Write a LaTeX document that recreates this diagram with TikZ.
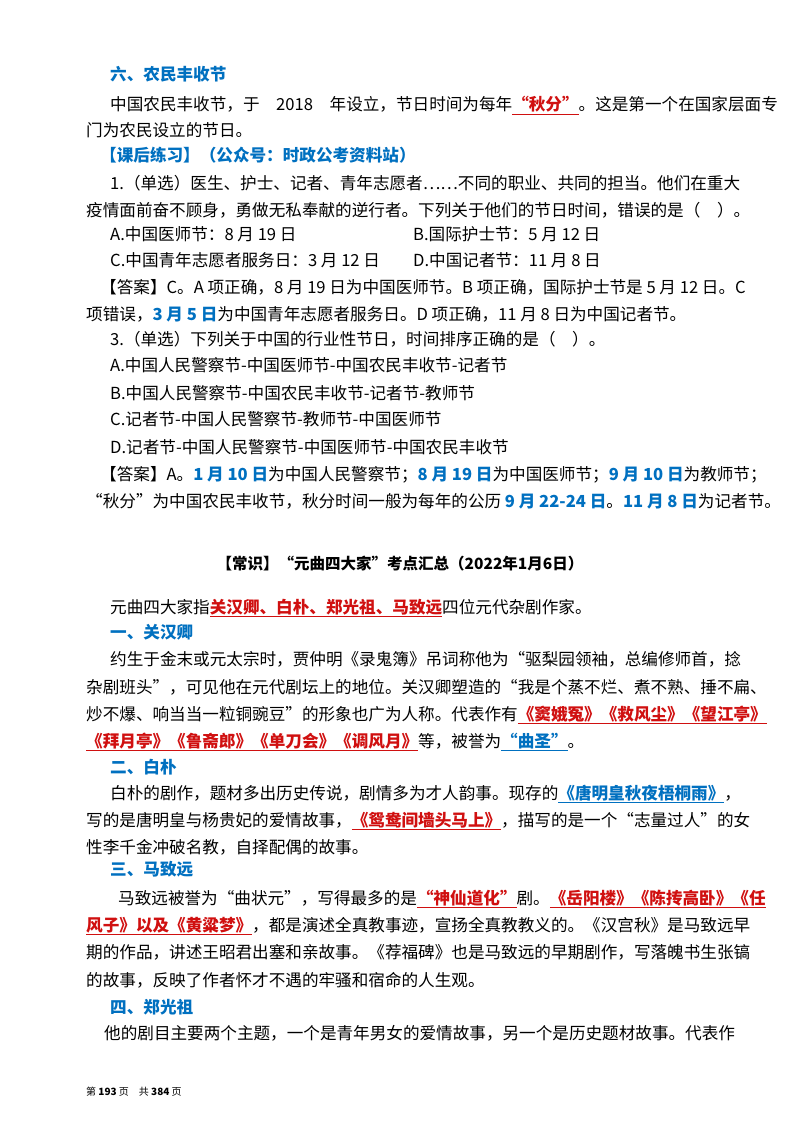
\documentclass[tikz,border=0pt]{standalone}
\usepackage{fontspec}
\setmainfont{Noto Sans CJK SC}
\definecolor{hb}{HTML}{0070C0}
\definecolor{hr}{HTML}{D01010}
\newcommand\ur[1]{{\color{hr}\underline{\textbf{#1}}}}
\newcommand\ub[1]{{\color{hb}\underline{\textbf{#1}}}}
\newcommand\rb[1]{{\color{hr}\textbf{#1}}}
\newcommand\bb[1]{{\color{hb}\textbf{#1}}}
\tikzset{ln/.style={anchor=base west,inner sep=0pt,font=\fontsize{16.6}{18}\selectfont},
hd/.style={ln,font=\fontsize{16.6}{18}\selectfont\bfseries,text=hb}}
\begin{document}
\begin{tikzpicture}[x=1pt,y=-1pt]
\useasboundingbox[fill=white] (0,0) rectangle (800,1131);
\node[hd] (h1) at (110,81) {六、农民丰收节};
\node[ln] (l1) at (110,111) {中国农民丰收节，于\quad 2018\quad 年设立，节日时间为每年\ur{“秋分”}。这是第一个在国家层面专};
\node[ln] (l2) at (86,137) {门为农民设立的节日。};
\node[hd] (h2) at (100,162) {【课后练习】（公众号：时政公考资料站）};
\node[ln] (l3) at (110,190) {1.（单选）医生、护士、记者、青年志愿者……不同的职业、共同的担当。他们在重大};
\node[ln] (l4) at (86,217) {疫情面前奋不顾身，勇做无私奉献的逆行者。下列关于他们的节日时间，错误的是（\quad ）。};
\node[ln] (a1) at (110,241) {A.中国医师节：8 月 19 日};
\node[ln] (b1) at (413,241) {B.国际护士节：5 月 12 日};
\node[ln] (c1) at (110,267) {C.中国青年志愿者服务日：3 月 12 日};
\node[ln] (d1) at (413,267) {D.中国记者节：11 月 8 日};
\node[ln] (l5) at (100,294) {【答案】C。A 项正确，8 月 19 日为中国医师节。B 项正确，国际护士节是 5 月 12 日。C};
\node[ln] (l6) at (86,320) {项错误，\bb{3 月 5 日}为中国青年志愿者服务日。D 项正确，11 月 8 日为中国记者节。};
\node[ln] (l7) at (110,345) {3.（单选）下列关于中国的行业性节日，时间排序正确的是（\quad ）。};
\node[ln] (a2) at (110,371) {A.中国人民警察节-中国医师节-中国农民丰收节-记者节};
\node[ln] (b2) at (110,399) {B.中国人民警察节-中国农民丰收节-记者节-教师节};
\node[ln] (c2) at (110,425) {C.记者节-中国人民警察节-教师节-中国医师节};
\node[ln] (d2) at (110,453) {D.记者节-中国人民警察节-中国医师节-中国农民丰收节};
\node[ln] (l8) at (100,480) {【答案】A。\bb{1 月 10 日}为中国人民警察节；\bb{8 月 19 日}为中国医师节；\bb{9 月 10 日}为教师节；};
\node[ln] (l9) at (86,507) {“秋分”为中国农民丰收节，秋分时间一般为每年的公历 \bb{9 月 22-24 日}。\bb{11 月 8 日}为记者节。};
\node[anchor=base,inner sep=0pt,font=\fontsize{15.5}{18}\selectfont\bfseries] (t) at (400,569) {【常识】“元曲四大家”考点汇总（2022年1月6日）};
\node[ln] (m1) at (110,613) {元曲四大家指\ur{关汉卿、白朴、郑光祖、马致远}四位元代杂剧作家。};
\node[hd] (h3) at (110,638) {一、关汉卿};
\node[ln] (m2) at (110,665) {约生于金末或元太宗时，贾仲明《录鬼簿》吊词称他为“驱梨园领袖，总编修师首，捻};
\node[ln] (m3) at (86,693) {杂剧班头”，可见他在元代剧坛上的地位。关汉卿塑造的“我是个蒸不烂、煮不熟、捶不扁、};
\node[ln] (m4) at (86,720) {炒不爆、响当当一粒铜豌豆”的形象也广为人称。代表作有\ur{《窦娥冤》《救风尘》《望江亭》}};
\node[ln] (m5) at (86,747) {\ur{《拜月亭》《鲁斋郎》《单刀会》《调风月》}等，被誉为\ub{“曲圣”}。};
\node[hd] (h4) at (110,773) {二、白朴};
\node[ln] (m6) at (110,799) {白朴的剧作，题材多出历史传说，剧情多为才人韵事。现存的\ub{《唐明皇秋夜梧桐雨》}，};
\node[ln] (m7) at (86,826) {写的是唐明皇与杨贵妃的爱情故事，\ur{《鸳鸯间墙头马上》}，描写的是一个“志量过人”的女};
\node[ln] (m8) at (86,853) {性李千金冲破名教，自择配偶的故事。};
\node[hd] (h5) at (110,875) {三、马致远};
\node[ln] (m9) at (118,904) {马致远被誉为“曲状元”，写得最多的是\ur{“神仙道化”}剧。\ur{《岳阳楼》《陈抟高卧》《任}};
\node[ln] (m10) at (86,931) {\ur{风子》以及《黄粱梦》}，都是演述全真教事迹，宣扬全真教教义的。《汉宫秋》是马致远早};
\node[ln] (m11) at (86,958) {期的作品，讲述王昭君出塞和亲故事。《荐福碑》也是马致远的早期剧作，写落魄书生张镐};
\node[ln] (m12) at (86,986) {的故事，反映了作者怀才不遇的牢骚和宿命的人生观。};
\node[hd] (h6) at (110,1013) {四、郑光祖};
\node[ln] (m13) at (104,1039) {他的剧目主要两个主题，一个是青年男女的爱情故事，另一个是历史题材故事。代表作};
\node[anchor=base west,inner sep=0pt,font=\fontsize{10}{12}\selectfont] (pg) at (86,1095) {第 \textbf{193} 页\quad 共 \textbf{384} 页};
\end{tikzpicture}
\end{document}
